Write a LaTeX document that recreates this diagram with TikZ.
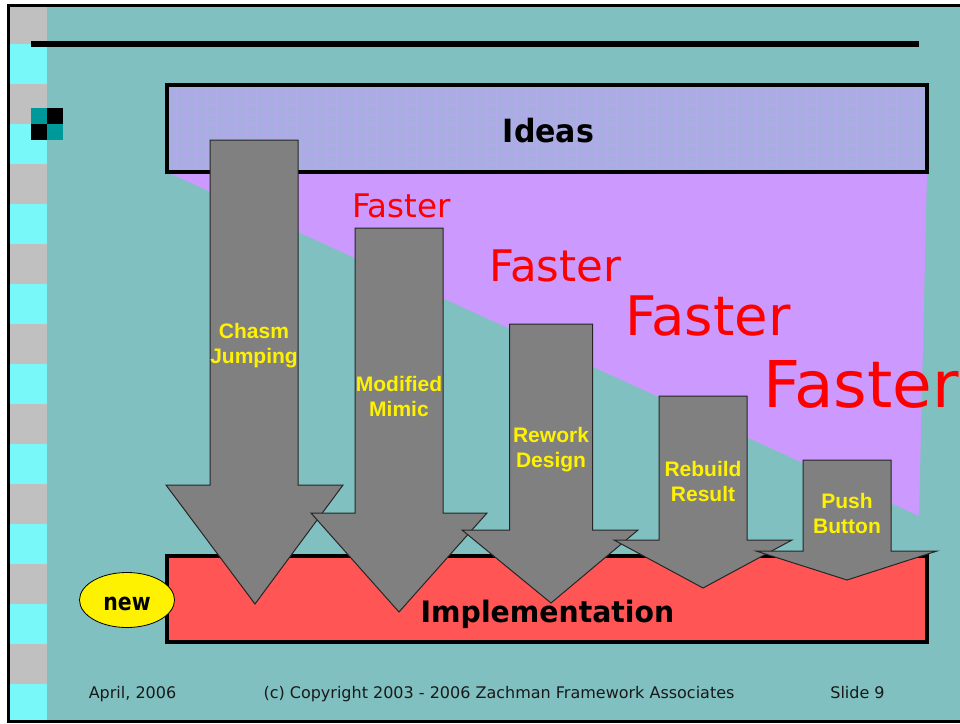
\documentclass[tikz,border=0pt]{standalone}
\usepackage{fontspec}
\usepackage{graphicx}
\setmainfont{DejaVu Sans}
\newfontfamily\arialf{Liberation Sans}
\usetikzlibrary{shapes.geometric}
\definecolor{bgteal}{RGB}{128,192,192}
\definecolor{stripgray}{RGB}{192,192,192}
\definecolor{stripcyan}{RGB}{120,248,248}
\definecolor{iconteal}{RGB}{0,153,153}
\definecolor{ideasfill}{RGB}{168,174,224}
\definecolor{ideasgrid}{RGB}{178,170,234}
\definecolor{purplefill}{RGB}{204,153,255}
\definecolor{implfill}{RGB}{255,85,85}
\definecolor{arrowgray}{RGB}{128,128,128}
\begin{document}
\begin{tikzpicture}[x=1pt,y=-1pt,
  arrowshape/.style={fill=arrowgray, draw=black!85, line width=1pt, line join=miter},
  arrowlabel/.style={text=yellow, font=\arialf\bfseries\fontsize{21}{25}\selectfont, align=center, inner sep=0},
  faster/.style={text=red, inner sep=0, anchor=base west},
  bigbox/.style={draw=black, line width=4pt, inner sep=0},
  footer/.style={font=\fontsize{16}{19}\selectfont, anchor=base, inner sep=0, text=black!90}]
\useasboundingbox (0,0) rectangle (960,723);
\fill[white] (0,0) rectangle (960,723);
\fill[bgteal] (8,5) rectangle (960,723);
% left strip
\fill[stripgray] (9.5,5) rectangle (47,721);
\foreach \k in {0,...,8} {
  \fill[stripcyan] (9.5,{44+80*\k}) rectangle (47,{min(84+80*\k,721)});
}
% frame
\draw[line width=3pt] (8,723) -- (8,5.5) -- (960,5.5);
\draw[line width=3pt] (8,721.5) -- (960,721.5);
% top rule
\draw[line width=6pt] (31,44) -- (919,44);
% icon
\fill[iconteal] (31,108) rectangle (47,124);
\fill[black] (47,108) rectangle (63,124);
\fill[black] (31,124) rectangle (47,140);
\fill[iconteal] (47,124) rectangle (63,140);
% purple wedge
\fill[purplefill] (167,172) -- (927,172) -- (919,516) -- cycle;
% ideas box
\fill[ideasfill] (167,85) rectangle (927,172);
\foreach \gx in {176,186,...,920} \draw[ideasgrid, line width=0.5pt] (\gx,87) -- (\gx,170);
\foreach \gy in {94,104,...,166} \draw[ideasgrid, line width=0.5pt] (169,\gy) -- (925,\gy);
\node[bigbox, minimum width=760, minimum height=87] (ideas) at (547,128.5) {};
\node[anchor=base, inner sep=0, font=\bfseries\fontsize{32}{36}\selectfont] (ideastext) at (548.5,142) {\scalebox{0.94}[1]{Ideas}};
% implementation box
\node[bigbox, fill=implfill, minimum width=760, minimum height=86] (impl) at (547,599) {};
% arrows
\foreach \xl/\xr/\tp/\hb/\hl/\hr/\tx/\ty in {
  210/298/140/485/166/343/255/604,
  355/443/228/513/311/487/399/612,
  509.5/592.5/324/530/462/638/551/603,
  659/747/396/540/614/792/703/588,
  803/891/460/551/756/937/847/580} {
  \draw[arrowshape] (\xl,\tp) -- (\xr,\tp) -- (\xr,\hb) -- (\hr,\hb) -- (\tx,\ty) -- (\hl,\hb) -- (\xl,\hb) -- cycle;
}
\node[anchor=base, inner sep=0, font=\bfseries\fontsize{29.5}{34}\selectfont] (impltext) at (547.5,622) {\scalebox{0.96}[1]{Implementation}};
% arrow labels
\node[arrowlabel] (chasm) at (254,345.5) {Chasm\\Jumping};
\node[arrowlabel] (modified) at (399,396) {Modified\\Mimic};
\node[arrowlabel] (rework) at (551,450) {Rework\\Design};
\node[arrowlabel] (rebuild) at (703,481.5) {Rebuild\\Result};
\node[arrowlabel] (push) at (847,513.5) {Push\\Button};
% faster
\node[faster, font=\fontsize{32.5}{36}\selectfont] (f1) at (352,217.5) {Faster};
\node[faster, font=\fontsize{43.5}{48}\selectfont] (f2) at (489,281.5) {Faster};
\node[faster, font=\fontsize{54.5}{60}\selectfont] (f3) at (625,335.5) {Faster};
\node[faster, font=\fontsize{64.5}{72}\selectfont] (f4) at (763,407.5) {Faster};
% new
\node[ellipse, draw=black, line width=0.8pt, fill=yellow, minimum width=95, minimum height=55, inner sep=0] (new) at (127,600) {};
\node[anchor=base, inner sep=0, font=\bfseries\fontsize{24}{26}\selectfont] (newtext) at (127,610) {\scalebox{0.85}[1]{new}};
% footer
\node[footer] (date) at (132.5,698) {April, 2006};
\node[footer] (copy) at (499,698) {(c) Copyright 2003 - 2006 Zachman Framework Associates};
\node[footer] (slide) at (857.5,698) {Slide 9};
\end{tikzpicture}
\end{document}
